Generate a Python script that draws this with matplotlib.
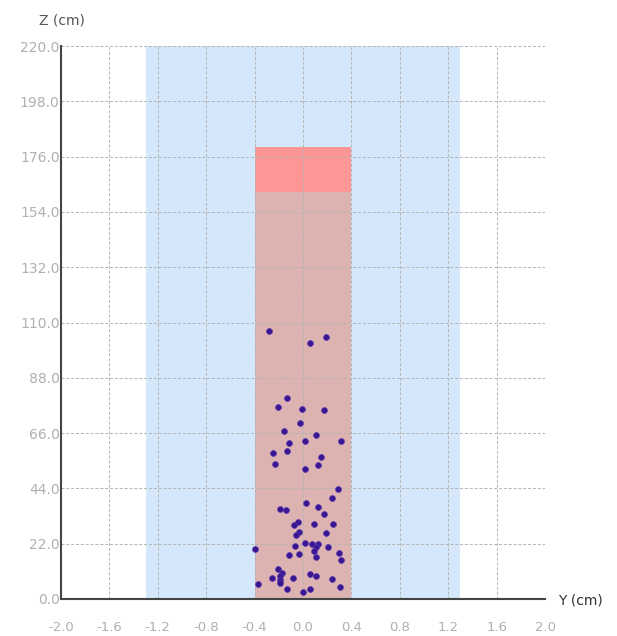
import matplotlib
matplotlib.use('Agg')
import matplotlib.pyplot as plt
from matplotlib.patches import Rectangle
import numpy as np

# Data
y_pos = [-0.285, 0.056, 0.194, -0.134, -0.210, -0.007, 0.172, -0.021, -0.158, 0.109,
         -0.117, 0.018, 0.312, -0.246, -0.134, 0.150, -0.235, 0.122, 0.018, 0.287,
         0.238, 0.021, -0.194, -0.144, 0.122, 0.172, -0.043, -0.078, 0.095, 0.249,
         -0.035, -0.056, 0.194, 0.018, -0.070, 0.073, 0.122, 0.106, 0.095, 0.210,
         -0.398, -0.117, -0.031, 0.106, 0.299, 0.312, -0.208, -0.175, -0.194, -0.257,
         -0.186, -0.081, 0.056, 0.111, 0.238, -0.186, -0.369, -0.130, 0.056, 0.304,
         -0.004]
z_pos = [106.6, 101.8, 104.1, 80.0, 76.3, 75.7, 75.3, 70.0, 66.8, 65.4,
         62.2, 62.7, 62.7, 58.1, 59.0, 56.4, 53.8, 53.2, 51.7, 43.9,
         40.2, 38.2, 35.8, 35.5, 36.6, 33.9, 30.7, 29.4, 29.8, 29.8,
         26.8, 25.3, 26.1, 22.4, 21.2, 21.9, 21.9, 20.6, 19.2, 20.6,
         19.9, 17.4, 17.8, 16.8, 18.3, 15.6, 11.8, 10.5, 9.3, 8.4,
         7.6, 8.4, 9.9, 9.0, 7.8, 6.5, 5.8, 4.1, 4.1, 4.8,
         2.7]

outer_half_width = 1.3
inner_half_width = 0.4
inner_top = 180.0
inner_mid = 162.0

x_ticks = [-2.0, -1.6, -1.2, -0.8, -0.4, 0.0, 0.4, 0.8, 1.2, 1.6, 2.0]
z_ticks = [0.0, 22.0, 44.0, 66.0, 88.0, 110.0, 132.0, 154.0, 176.0, 198.0, 220.0]

fig = plt.figure(figsize=(6.17, 6.36), dpi=100)
ax = fig.add_axes([61/617, 1-599/636, 484/617, 553/636])

# regions
ax.add_patch(Rectangle((-outer_half_width, 0), 2*outer_half_width, 220,
                       facecolor='#d5e7fa', edgecolor='none', zorder=0.5))
ax.add_patch(Rectangle((-inner_half_width, 0), 2*inner_half_width, inner_mid,
                       facecolor='#dcb3b1', edgecolor='none', zorder=0.6))
ax.add_patch(Rectangle((-inner_half_width, inner_mid), 2*inner_half_width, inner_top - inner_mid,
                       facecolor='#ff9696', edgecolor='none', zorder=0.6))

ax.scatter(y_pos, z_pos, s=18, color='#3a1690', edgecolors='#5a3ab0', linewidths=0.5, zorder=3)

ax.set_xlim(-2.0, 2.0)
ax.set_ylim(0, 220)
ax.set_xticks(x_ticks)
ax.set_xticklabels(['%.1f' % v for v in x_ticks])
ax.set_yticks(z_ticks)
ax.set_yticklabels(['%.1f' % v for v in z_ticks])
ax.tick_params(axis='both', length=0, labelsize=10, labelcolor='#b0b0b0')
ax.tick_params(axis='x', pad=16, labelsize=9.5)
ax.tick_params(axis='y', pad=1)

ax.grid(True, linestyle=(0, (3, 2)), color='#b4b4b4', linewidth=0.7)

for s in ['top', 'right']:
    ax.spines[s].set_visible(False)
for s in ['left', 'bottom']:
    ax.spines[s].set_color('#444444')
    ax.spines[s].set_linewidth(1.5)

fig.text(62/617, 1-20/636, 'Z (cm)', ha='center', va='center', fontsize=10, color='#555555')
fig.text(580/617, 1-600/636, 'Y (cm)', ha='center', va='center', fontsize=10, color='#333333')

fig.savefig('out.png', dpi=100)
